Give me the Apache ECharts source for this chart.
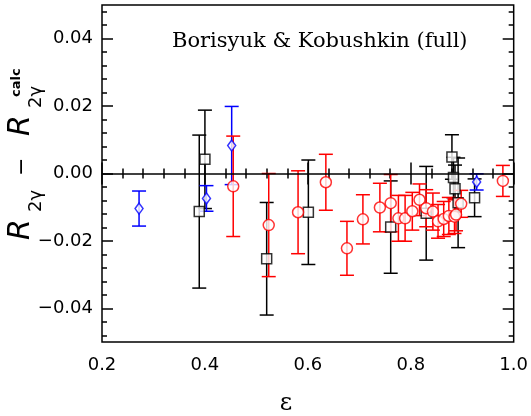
<!DOCTYPE html>
<html>
<head>
<meta charset="utf-8">
<script src="https://cdn.jsdelivr.net/npm/echarts@6/dist/echarts.min.js"></script>
<style>
  html, body { margin: 0; padding: 0; background: #fff; }
  #chart { width: 531px; height: 416px; }
</style>
</head>
<body>
<div id="chart"></div>
<script>
// red circles: epsilon, R2g - R2g(calc), error
const redEps = [0.455, 0.524, 0.581, 0.635, 0.676, 0.707, 0.740, 0.761, 0.776, 0.789, 0.803, 0.817, 0.830, 0.843, 0.853, 0.864, 0.874, 0.885, 0.888, 0.898, 0.979];
const redVal = [-0.0038, -0.0153, -0.0115, -0.0026, -0.0222, -0.0136, -0.0101, -0.0088, -0.0133, -0.0133, -0.0112, -0.0078, -0.0103, -0.0113, -0.0142, -0.0135, -0.0126, -0.0128, -0.0122, -0.0090, -0.0022];
const redErr = [0.0149, 0.0153, 0.0123, 0.0083, 0.0080, 0.0073, 0.0072, 0.0085, 0.0068, 0.0068, 0.0056, 0.0047, 0.0055, 0.0055, 0.0050, 0.0052, 0.0055, 0.0050, 0.0048, 0.0040, 0.0046];

// black squares
const blackEps = [0.389, 0.400, 0.520, 0.601, 0.761, 0.830, 0.880, 0.883, 0.886, 0.892, 0.924];
const blackVal = [-0.0113, 0.0042, -0.0253, -0.0115, -0.0159, -0.0118, 0.0049, -0.0012, -0.0045, -0.0087, -0.0072];
const blackErr = [0.0227, 0.0146, 0.0167, 0.0155, 0.0137, 0.0139, 0.0066, 0.0060, 0.0070, 0.0133, 0.0056];

// blue diamonds
const blueEps = [0.272, 0.403, 0.452, 0.928];
const blueVal = [-0.0104, -0.0074, 0.0083, -0.0025];
const blueErr = [0.0052, 0.0038, 0.0116, 0.0024];

// ticks
const xMajor = [0.2, 0.4, 0.6, 0.8, 1.0];
const xMinor = [0.24, 0.28, 0.32, 0.36, 0.44, 0.48, 0.52, 0.56, 0.64, 0.68, 0.72, 0.76, 0.84, 0.88, 0.92, 0.96];
const yMajor = [-0.04, -0.02, 0, 0.02, 0.04];
const yMinor = [-0.048, -0.044, -0.036, -0.032, -0.028, -0.024, -0.016, -0.012, -0.008, -0.004,
                0.004, 0.008, 0.012, 0.016, 0.024, 0.028, 0.032, 0.036, 0.044, 0.048];

const zip = (e, v, s) => e.map((x, i) => [x, v[i], s[i]]);
const redData = zip(redEps, redVal, redErr);
const blackData = zip(blackEps, blackVal, blackErr);
const blueData = zip(blueEps, blueVal, blueErr);

const fmtY = v => (v < -1e-9 ? '\u2212' : '') + Math.abs(v).toFixed(2);

function errBars(color) {
    return function (params, api) {
        const x = api.value(0), y = api.value(1), e = api.value(2);
        const top = api.coord([x, y + e]);
        const bot = api.coord([x, y - e]);
        const hw = 7;
        const st = { stroke: color, lineWidth: 1.5 };
        return {
            type: 'group',
            children: [
                { type: 'line', shape: { x1: top[0], y1: top[1], x2: bot[0], y2: bot[1] }, style: st },
                { type: 'line', shape: { x1: top[0] - hw, y1: top[1], x2: top[0] + hw, y2: top[1] }, style: st },
                { type: 'line', shape: { x1: bot[0] - hw, y1: bot[1], x2: bot[0] + hw, y2: bot[1] }, style: st }
            ]
        };
    };
}

function xAx(pos, ticks, len, labels) {
    return {
        type: 'value', position: pos, min: 0.2, max: 1.0,
        axisLine: { show: false },
        splitLine: { show: false },
        axisTick: { show: true, inside: true, length: len, customValues: ticks, lineStyle: { color: '#000', width: 1.5 } },
        axisLabel: labels ? {
            show: true, customValues: ticks, margin: 14, color: '#000',
            fontFamily: 'DejaVu Sans', fontSize: 18, formatter: v => v.toFixed(1)
        } : { show: false }
    };
}
function yAx(pos, ticks, len, labels) {
    return {
        type: 'value', position: pos, min: -0.05, max: 0.05,
        axisLine: { show: false },
        splitLine: { show: false },
        axisTick: { show: true, inside: true, length: len, customValues: ticks, lineStyle: { color: '#000', width: 1.5 } },
        axisLabel: labels ? {
            show: true, customValues: ticks, margin: 9, color: '#000',
            fontFamily: 'DejaVu Sans', fontSize: 18, formatter: fmtY
        } : { show: false }
    };
}

const option = {
    animation: false,
    backgroundColor: '#fff',
    grid: { left: 102, right: 17, top: 5, bottom: 74, show: true, borderColor: '#000', borderWidth: 1.5, backgroundColor: 'transparent' },
    xAxis: [
        xAx('bottom', xMajor, 11, true),
        xAx('bottom', xMinor, 5, false),
        xAx('top', xMajor, 11, false),
        xAx('top', xMinor, 5, false)
    ],
    yAxis: [
        yAx('left', yMajor, 11, true),
        yAx('left', yMinor, 5, false),
        yAx('right', yMajor, 11, false),
        yAx('right', yMinor, 5, false)
    ],
    graphic: [
        {
            type: 'text', left: 172, top: 31,
            style: { text: 'Borisyuk & Kobushkin (full)', fill: '#000', font: '21px "DejaVu Serif"' }
        },
        {
            type: 'text', x: 286, y: 404,
            style: { text: '\u03b5', fill: '#000', font: '24px "DejaVu Serif"', align: 'center', verticalAlign: 'middle' }
        },
        {
            type: 'group', x: 32, y: 240, rotation: Math.PI / 2,
            children: [
                { type: 'text', x: 0, y: -11, style: { text: 'R', fill: '#000', font: 'italic 30px "DejaVu Sans"', verticalAlign: 'middle' } },
                { type: 'text', x: 28, y: 4, style: { text: '2\u03b3', fill: '#000', font: '18px "DejaVu Sans"', verticalAlign: 'middle' } },
                { type: 'text', x: 64, y: -10, style: { text: '\u2212', fill: '#000', font: '22px "DejaVu Sans"', verticalAlign: 'middle' } },
                { type: 'text', x: 104, y: -11, style: { text: 'R', fill: '#000', font: 'italic 30px "DejaVu Sans"', verticalAlign: 'middle' } },
                { type: 'text', x: 132, y: 4, style: { text: '2\u03b3', fill: '#000', font: '18px "DejaVu Sans"', verticalAlign: 'middle' } },
                { type: 'text', x: 143, y: -15, style: { text: 'calc', fill: '#000', font: 'bold 13px "DejaVu Sans"', verticalAlign: 'middle' } }
            ]
        }
    ],
    series: [
        {
            type: 'custom', renderItem: errBars('#000000'), data: blackData,
            encode: { x: 0, y: 1 }, z: 2
        },
        {
            type: 'custom', renderItem: errBars('#0000ff'), data: blueData,
            encode: { x: 0, y: 1 }, z: 2
        },
        {
            type: 'custom', renderItem: errBars('#ff0000'), data: redData,
            encode: { x: 0, y: 1 }, z: 2,
            markLine: {
                silent: true, symbol: 'none', label: { show: false },
                lineStyle: { color: '#000', width: 1.5, type: 'solid' },
                data: [{ yAxis: 0 }]
            }
        },
        {
            type: 'scatter', data: blackData, symbol: 'rect', symbolSize: 10, z: 3,
            itemStyle: { color: '#fff', borderColor: '#000', borderWidth: 1.5 }
        },
        {
            type: 'scatter', data: redData, symbol: 'circle', symbolSize: 11, z: 3,
            itemStyle: { color: '#fff', borderColor: '#ff0000', borderWidth: 1.5 }
        },
        {
            type: 'scatter', data: blueData, symbol: 'diamond', symbolSize: [8, 11], z: 3,
            itemStyle: { color: '#fff', borderColor: '#0000ff', borderWidth: 1.5 }
        }
    ]
};

const myChart = echarts.init(document.getElementById('chart'));
myChart.setOption(option);
</script>
</body>
</html>
